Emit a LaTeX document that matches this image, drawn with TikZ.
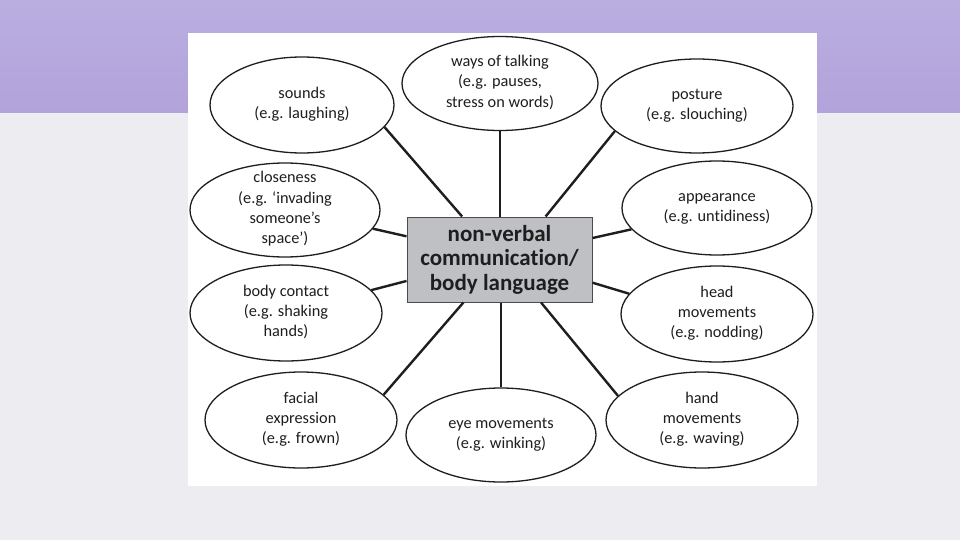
\documentclass[tikz,border=0pt]{standalone}
\usepackage{fontspec}
\setmainfont{Carlito}[Ligatures=NoCommon]
\usetikzlibrary{shapes.geometric}
\definecolor{lav}{HTML}{B2A3DA}
\definecolor{lavtop}{HTML}{BAAEE0}
\definecolor{paper}{HTML}{EDECF1}
\definecolor{boxgray}{HTML}{BFC0C4}
\definecolor{ink}{HTML}{1E1E1E}
\newcommand\bt[1]{\makebox[0pt]{\smash{\raisebox{-0.22em}{\begin{tabular}{@{}c@{}}#1\end{tabular}}}}}
\tikzset{
  bub/.style={ellipse, draw=ink, line width=1.3pt, fill=white, inner sep=0pt,
    text=ink, font=\fontsize{16.3}{20.3}\selectfont},
  conn/.style={line width=2.4pt, draw=ink},
  hub/.style={rectangle, draw=ink!80, line width=1pt, fill=boxgray, inner sep=0pt,
    minimum width=185pt, minimum height=85pt, align=center, text=ink,
    font=\fontsize{23}{24.5}\selectfont\bfseries}
}
\begin{document}
\begin{tikzpicture}[x=1pt,y=-1pt]
\useasboundingbox (0,0) rectangle (960,540);
% background
\fill[paper] (0,113) rectangle (960,540);
\shade[top color=lavtop, bottom color=lav] (0,0) rectangle (960,113);
\fill[white] (188,33) rectangle (817,486);
% centre
\node[hub] (hub) at (499.5,259.5) {non-verbal\\communication/\\body language};
% bubbles
\node[bub, minimum width=184pt, minimum height=96pt] (sounds) at (302,105) {\bt{sounds\\(e.g. laughing)}};
\node[bub, minimum width=196pt, minimum height=94pt] (ways) at (500,83.5) {\bt{ways of talking\\(e.g. pauses,\\stress on words)}};
\node[bub, minimum width=192pt, minimum height=94pt] (posture) at (697,106) {\bt{posture\\(e.g. slouching)}};
\node[bub, minimum width=190pt, minimum height=94pt] (close) at (285,210) {\bt{closeness\\(e.g. `invading\\someone's\\space')}};
\node[bub, minimum width=190pt, minimum height=94pt] (appear) at (717,208) {\bt{appearance\\(e.g. untidiness)}};
\node[bub, minimum width=192pt, minimum height=96pt] (body) at (286,313) {\bt{body contact\\(e.g. shaking\\hands)}};
\node[bub, minimum width=192pt, minimum height=96pt] (head) at (717,314) {\bt{head\\movements\\(e.g. nodding)}};
\node[bub, minimum width=192pt, minimum height=96pt] (facial) at (301,420) {\bt{facial\\expression\\(e.g. frown)}};
\node[bub, minimum width=190pt, minimum height=94pt] (eye) at (501,435) {\bt{eye movements\\(e.g. winking)}};
\node[bub, minimum width=192pt, minimum height=96pt] (hand) at (702,420) {\bt{hand\\movements\\(e.g. waving)}};
% connectors
\draw[conn] (sounds.-15.5) -- (hub.131.4);
\draw[conn] (ways.south) -- (ways.south |- hub.north);
\draw[conn] (posture.-163) -- (hub.43);
\draw[conn] (close.-12.8) -- (hub.166.3);
\draw[conn] (appear.194.2) -- (hub.13.1);
\draw[conn] (body.15.3) -- (hub.193.7);
\draw[conn] (head.167.7) -- (hub.-14.3);
\draw[conn] (facial.17) -- (hub.230.9);
\draw[conn] (eye.north) -- (eye.north |- hub.south);
\draw[conn] (hand.164.7) -- (hub.-46.4);
\end{tikzpicture}
\end{document}
